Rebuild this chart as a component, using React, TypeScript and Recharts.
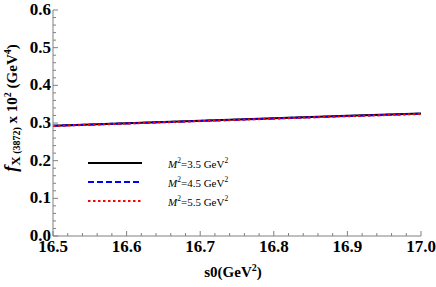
import React from "react";
import { LineChart, Line, XAxis, YAxis, Legend } from "recharts";

const s0Values = [16.5, 16.6, 16.7, 16.8, 16.9, 17.0];
const fM35 = [0.293, 0.2995, 0.306, 0.3125, 0.319, 0.325];
const fM45 = [0.2925, 0.299, 0.3055, 0.312, 0.3185, 0.3245];
const fM55 = [0.292, 0.2985, 0.305, 0.3115, 0.318, 0.324];
const seriesNames = ["3.5", "4.5", "5.5"];
const xMajorTicks = [16.5, 16.6, 16.7, 16.8, 16.9, 17.0];
const yMajorTicks = [0, 0.1, 0.2, 0.3, 0.4, 0.5, 0.6];

const data = s0Values.map((s, i) => ({ s0: s, a: fM35[i], b: fM45[i], c: fM55[i] }));

const minorize = (majors: number[], n: number) => {
  const out: number[] = [];
  for (let i = 0; i < majors.length - 1; i++) {
    const step = (majors[i + 1] - majors[i]) / n;
    for (let k = 0; k < n; k++) out.push(+(majors[i] + k * step).toFixed(4));
  }
  out.push(majors[majors.length - 1]);
  return out;
};
const xTicks = minorize(xMajorTicks, 5);
const yTicks = minorize(yMajorTicks, 5);
const isMajor = (v: number) => Math.abs(v * 10 - Math.round(v * 10)) < 1e-6;

const FONT = "Liberation Serif";
const TICK = "#808080";
const MAJ = 5;
const MIN = 3;
const txt = (size: number, extra: any = {}) => ({ fontFamily: FONT, fontWeight: 700, fontSize: size, ...extra });

const BottomTick = (p: any) => {
  const { x, y, payload } = p;
  const v = payload.value;
  const maj = isMajor(v);
  return (
    <g>
      <line x1={x} y1={y} x2={x} y2={y - (maj ? MAJ : MIN)} stroke={TICK} strokeWidth={1} />
      {maj && (
        <text x={x} y={y + 16} textAnchor="middle" style={txt(17)} fill="#000">
          {v.toFixed(1)}
        </text>
      )}
    </g>
  );
};
const TopTick = (p: any) => {
  const { x, y, payload } = p;
  const maj = isMajor(payload.value);
  return <line x1={x} y1={y} x2={x} y2={y + (maj ? MAJ : MIN)} stroke={TICK} strokeWidth={1} />;
};
const LeftTick = (p: any) => {
  const { x, y, payload } = p;
  const v = payload.value;
  const maj = isMajor(v);
  return (
    <g>
      <line x1={x} y1={y} x2={x + (maj ? MAJ : MIN)} y2={y} stroke={TICK} strokeWidth={1} />
      {maj && (
        <text x={x - 2} y={y + 5} textAnchor="end" style={txt(17)} fill="#000">
          {v.toFixed(1)}
        </text>
      )}
    </g>
  );
};
const RightTick = (p: any) => {
  const { x, y, payload } = p;
  const maj = isMajor(payload.value);
  return <line x1={x} y1={y} x2={x - (maj ? MAJ : MIN)} y2={y} stroke={TICK} strokeWidth={1} />;
};

const YLabel = (p: any) => {
  const vb = p.viewBox || {};
  const cx = 17;
  const cy = (vb.y ?? 10) + (vb.height ?? 226) / 2 - 15;
  return (
    <text x={cx} y={cy} transform={`rotate(-90, ${cx}, ${cy})`} textAnchor="middle" style={txt(15)} fill="#000">
      <tspan fontStyle="italic" fontSize={18}>f</tspan>
      <tspan fontSize={13} dy={3}>X</tspan>
      <tspan fontSize={10}> (3872)</tspan>
      <tspan dy={-3}> x 10</tspan>
      <tspan fontSize={10} dy={-6}>2</tspan>
      <tspan dy={6}> (GeV</tspan>
      <tspan fontSize={10} dy={-6}>4</tspan>
      <tspan dy={6}>)</tspan>
    </text>
  );
};

const XLabel = (p: any) => {
  const vb = p.viewBox || {};
  const cx = (vb.x ?? 53) + (vb.width ?? 368) / 2;
  return (
    <text x={cx - 4} y={277} textAnchor="middle" style={txt(15)} fill="#000">
      s0(GeV<tspan fontSize={10} dy={-6}>2</tspan><tspan dy={6}>)</tspan>
    </text>
  );
};

const styles = [
  { color: "#000000", dash: undefined as string | undefined },
  { color: "#0000ff", dash: "6 3" },
  { color: "#ff0000", dash: "2.5 2.5" },
];

const LegendContent = () => (
  <div style={{ fontFamily: FONT, fontSize: 11, color: "#000" }}>
    {seriesNames.map((n, i) => (
      <div key={n} style={{ display: "flex", alignItems: "center", height: 19 }}>
        <svg width={56} height={6} style={{ display: "block" }}>
          <line x1={1} y1={3} x2={55} y2={3} stroke={styles[i].color} strokeWidth={2} strokeDasharray={styles[i].dash} />
        </svg>
        <span style={{ marginLeft: 25, whiteSpace: "nowrap" }}>
          <i>M</i>
          <sup style={{ fontSize: 7.5 }}>2</sup>={n} GeV<sup style={{ fontSize: 7.5 }}>2</sup>
        </span>
      </div>
    ))}
  </div>
);

export default function App() {
  return (
    <div style={{ width: 436, height: 287 }}>
      <style>{`body{margin:0}`}</style>
      <LineChart width={436} height={287} data={data} margin={{ top: 10, right: 15, left: 0, bottom: 0 }}>
        <XAxis
          xAxisId="b"
          dataKey="s0"
          type="number"
          domain={[16.5, 17]}
          ticks={xTicks}
          interval={0}
          tick={<BottomTick />}
          tickLine={false}
          tickSize={0}
          tickMargin={0}
          height={51}
          axisLine={{ stroke: TICK }}
          label={<XLabel />}
        />
        <XAxis
          xAxisId="t"
          orientation="top"
          dataKey="s0"
          type="number"
          domain={[16.5, 17]}
          ticks={xTicks}
          interval={0}
          tick={<TopTick />}
          tickLine={false}
          tickSize={0}
          tickMargin={0}
          height={0}
          axisLine={{ stroke: TICK }}
        />
        <YAxis
          yAxisId="l"
          type="number"
          domain={[0, 0.6]}
          ticks={yTicks}
          interval={0}
          tick={<LeftTick />}
          tickLine={false}
          tickSize={0}
          tickMargin={0}
          width={53}
          axisLine={{ stroke: TICK }}
          label={<YLabel />}
        />
        <YAxis
          yAxisId="r"
          orientation="right"
          type="number"
          domain={[0, 0.6]}
          ticks={yTicks}
          interval={0}
          tick={<RightTick />}
          tickLine={false}
          tickSize={0}
          tickMargin={0}
          width={0}
          axisLine={{ stroke: TICK }}
        />
        <Legend
          layout="vertical"
          align="center"
          verticalAlign="middle"
          content={<LegendContent />}
          wrapperStyle={{ left: 87, top: 153, width: 200, height: 60 }}
        />
        {(["a", "b", "c"] as const).map((k, i) => (
          <Line
            key={k}
            xAxisId="b"
            yAxisId="l"
            dataKey={k}
            name={seriesNames[i]}
            stroke={styles[i].color}
            strokeWidth={2}
            strokeDasharray={styles[i].dash}
            dot={false}
            activeDot={false}
            isAnimationActive={false}
            type="linear"
          />
        ))}
      </LineChart>
    </div>
  );
}
